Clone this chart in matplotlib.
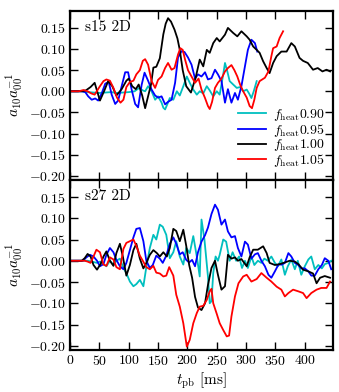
import matplotlib
matplotlib.use("Agg")
import matplotlib.pyplot as plt

plt.rcParams['font.family'] = 'serif'
plt.rcParams['font.serif'] = ['cmr10', 'DejaVu Serif']
plt.rcParams['mathtext.fontset'] = 'cm'
plt.rcParams['axes.formatter.use_mathtext'] = True
plt.rcParams['font.size'] = 10

# ---------------- data: s15 2D ----------------
s15_t_090 = [0, 20, 30, 40, 50, 60, 70, 80, 90, 100,
             110, 118, 124, 128, 133, 139, 145, 150, 156, 159,
             162, 166, 170, 176, 182, 187, 193, 199, 204, 210,
             216, 221, 227, 233, 238, 244, 250, 255, 261, 264,
             268, 272, 278, 284, 290, 295, 301, 305, 309, 313,
             318]
s15_y_090 = [0, 0, -0.002, -0.003, -0.004, -0.003, -0.002, -0.004, -0.003, -0.002,
             0.0, 0.008, 0.002, 0.0, 0.012, 0.0, -0.02, -0.012, -0.027, -0.039,
             -0.043, -0.03, -0.016, -0.02, 0.0, -0.01, 0.012, 0.035, 0.02, 0.004,
             -0.008, 0.0, -0.005, 0.012, 0.002, -0.012, 0.0, -0.008, 0.04, 0.067,
             0.047, 0.024, 0.016, 0.008, 0.01, 0.0, 0.004, -0.005, -0.016, 0.0,
             0.024]

s15_t_095 = [0, 20, 26, 31, 37, 43, 48, 54, 60, 66,
             71, 77, 82, 88, 94, 99, 105, 111, 116, 122,
             127, 133, 139, 145, 150, 156, 162, 167, 173, 179,
             184, 190, 195, 201, 207, 213, 218, 224, 230, 235,
             241, 247, 252, 258, 264, 269, 275, 281, 286, 292,
             298, 303, 309, 315, 319]
s15_y_095 = [0, 0, -0.002, -0.012, -0.02, -0.017, -0.022, -0.005, 0.018, 0.022,
             -0.008, -0.03, -0.022, 0.012, 0.045, 0.045, 0.004, -0.03, -0.038, 0.015,
             0.044, 0.025, 0.004, -0.01, -0.015, -0.012, -0.031, -0.025, -0.02, 0.02,
             0.08, 0.095, 0.093, 0.08, 0.063, 0.03, 0.04, 0.035, 0.045, 0.028,
             0.031, 0.051, 0.04, 0.024, -0.027, 0.005, -0.027, -0.004, -0.02, 0.012,
             0.059, 0.098, 0.122, 0.114, 0.094]

s15_t_100 = [0, 20, 27, 35, 42, 51, 58, 65, 72, 79,
             88, 96, 100, 106, 112, 117, 123, 128, 133, 138,
             142, 147, 153, 159, 163, 167, 172, 178, 183, 187,
             192, 198, 206, 214, 221, 227, 233, 238, 244, 250,
             255, 264, 269, 278, 285, 292, 301, 306, 312, 318,
             323, 329, 335, 340, 346, 352, 360, 369, 377, 383,
             391, 397, 405, 414, 422, 430, 437, 443]
s15_y_100 = [0.0, 0.0, 0.002, 0.01, 0.02, -0.022, 0.0, 0.024, 0.012, -0.01,
             0.005, 0.025, 0.03, 0.012, 0.005, 0.016, -0.01, -0.04, -0.012, 0.016,
             0.056, 0.058, 0.078, 0.135, 0.16, 0.173, 0.165, 0.146, 0.125, 0.098,
             0.05, 0.012, -0.003, 0.032, 0.075, 0.059, 0.098, 0.091, 0.114, 0.126,
             0.118, 0.134, 0.15, 0.138, 0.13, 0.142, 0.13, 0.122, 0.106, 0.098,
             0.091, 0.071, 0.055, 0.043, 0.067, 0.083, 0.094, 0.094, 0.114, 0.106,
             0.079, 0.072, 0.067, 0.051, 0.055, 0.047, 0.051, 0.047]

s15_t_105 = [0, 15, 23, 30, 36, 42, 51, 57, 62, 68,
             74, 80, 86, 91, 96, 102, 108, 113, 119, 124,
             128, 133, 139, 145, 150, 156, 162, 167, 173, 178,
             184, 188, 192, 196, 201, 207, 213, 219, 224, 230,
             235, 238, 242, 247, 252, 258, 264, 269, 275, 280,
             285, 290, 295, 301, 306, 310, 314, 318, 323, 332,
             338, 343, 346, 352, 357, 363]
s15_y_105 = [0, 0, 0.003, 0.0, -0.005, -0.008, 0.012, 0.024, 0.028, 0.025,
             0.008, -0.015, -0.027, -0.02, 0.01, 0.022, 0.025, 0.04, 0.05, 0.072,
             0.076, 0.063, 0.024, 0.008, 0.027, 0.035, 0.055, 0.067, 0.051, 0.055,
             0.087, 0.102, 0.098, 0.075, 0.05, 0.035, 0.02, 0.03, 0.004, -0.016,
             -0.035, -0.042, -0.025, 0.008, 0.02, 0.03, 0.047, 0.055, 0.062, 0.05,
             0.035, 0.015, 0.0, -0.015, -0.035, -0.04, -0.02, 0.008, 0.024, 0.032,
             0.047, 0.083, 0.102, 0.106, 0.126, 0.142]

# ---------------- data: s27 2D ----------------
s27_t_090 = [0, 30, 40, 46, 51, 57, 62, 68, 74, 79,
             85, 91, 96, 102, 108, 113, 119, 125, 130, 136,
             142, 147, 153, 158, 164, 170, 176, 181, 187, 193,
             198, 204, 210, 216, 221, 224, 229, 235, 238, 241,
             244, 248, 252, 255, 261, 266, 272, 277, 283, 288,
             293, 298, 303, 309, 314, 320, 326, 331, 337, 343,
             349, 354, 360, 366, 371, 377, 383, 388, 394, 400,
             406, 411, 417, 423, 429, 434, 440, 445]
s27_y_090 = [0, 0, -0.003, -0.005, -0.002, -0.008, -0.013, 0.0, -0.01, 0.0,
             0.005, -0.017, -0.029, -0.049, -0.06, -0.055, -0.045, -0.06, -0.015, 0.03,
             0.061, 0.05, 0.085, 0.08, 0.061, 0.006, 0.02, 0.046, 0.01, -0.009,
             0.03, 0.018, 0.058, 0.01, -0.037, 0.097, 0.05, -0.037, -0.1, -0.095,
             -0.029, 0.01, 0.0, 0.014, 0.05, 0.045, 0.0, 0.02, 0.0, 0.01,
             -0.017, 0.0, -0.017, 0.01, -0.01, 0.0, -0.005, 0.005, 0.0, 0.01,
             -0.005, -0.013, 0.003, -0.033, -0.013, 0.003, -0.02, 0.0, -0.033, -0.013,
             0.003, 0.01, -0.02, -0.01, -0.018, -0.008, -0.005, 0.0]

s27_t_095 = [0, 22, 28, 34, 40, 46, 51, 57, 62, 68,
             74, 79, 85, 91, 96, 102, 108, 113, 119, 125,
             130, 136, 141, 147, 153, 158, 164, 170, 176, 181,
             187, 192, 198, 203, 208, 213, 218, 224, 230, 235,
             241, 247, 252, 258, 264, 269, 275, 281, 286, 292,
             298, 303, 309, 315, 320, 326, 332, 338, 343, 349,
             355, 361, 366, 372, 377, 383, 389, 394, 400, 406,
             411, 417, 423, 429, 434, 440, 445]
s27_y_095 = [0, 0, 0.008, 0.014, 0.01, 0.0, -0.013, -0.008, 0.014, 0.03,
             0.02, 0.002, -0.013, -0.02, -0.005, 0.025, 0.055, 0.075, 0.077, 0.046,
             0.0, -0.017, -0.01, 0.012, 0.005, -0.005, 0.012, 0.04, 0.055, 0.04,
             0.015, 0.02, 0.002, -0.004, 0.002, -0.013, 0.02, 0.045, 0.06, 0.078,
             0.11, 0.132, 0.12, 0.085, 0.097, 0.069, 0.055, 0.058, 0.03, 0.01,
             0.045, 0.038, 0.005, 0.015, 0.018, 0.0, -0.013, -0.033, -0.04, -0.025,
             -0.009, -0.009, -0.005, 0.018, 0.01, -0.005, -0.01, -0.018, -0.018, -0.025,
             -0.035, -0.035, -0.02, -0.01, 0.006, 0.0, -0.02]

s27_t_100 = [0, 20, 25, 30, 35, 40, 46, 52, 57, 62,
             68, 74, 79, 85, 90, 96, 102, 108, 113, 119,
             125, 130, 136, 142, 148, 153, 159, 165, 170, 176,
             181, 187, 193, 198, 203, 208, 213, 218, 224, 230,
             235, 241, 247, 252, 258, 264, 269, 275, 281, 286,
             292, 301, 306, 312, 320, 329, 335, 340, 349, 357,
             366, 374, 383, 389, 397, 406, 414, 420, 426, 434,
             443]
s27_y_100 = [0, 0, 0.006, 0.016, 0.01, -0.01, -0.021, -0.008, 0.01, 0.022,
             0.0, -0.012, 0.018, 0.04, 0.01, -0.035, -0.01, 0.025, 0.04, 0.005,
             -0.018, -0.005, 0.014, 0.025, 0.018, 0.01, 0.02, 0.01, 0.03, 0.075,
             0.07, 0.046, 0.073, 0.035, -0.01, -0.04, -0.085, -0.11, -0.116, -0.1,
             -0.057, -0.017, 0.0, -0.033, -0.068, -0.06, 0.014, 0.005, 0.008, 0.0,
             0.004, -0.013, 0.008, 0.026, 0.026, 0.034, 0.018, -0.005, -0.01, -0.008,
             -0.004, 0.0, -0.002, -0.008, -0.021, -0.025, -0.03, -0.053, -0.04, -0.036,
             -0.04]

s27_t_105 = [0, 25, 30, 35, 40, 45, 51, 57, 62, 68,
             74, 79, 85, 91, 96, 102, 108, 113, 119, 124,
             130, 136, 142, 147, 153, 159, 164, 169, 176, 181,
             187, 193, 199, 204, 210, 216, 221, 227, 233, 238,
             241, 244, 250, 255, 261, 267, 271, 275, 281, 287,
             295, 301, 309, 318, 326, 335, 343, 352, 360, 366,
             372, 380, 389, 397, 403, 411, 420, 428, 437, 443]
s27_y_105 = [0, 0, -0.002, -0.005, 0.01, 0.026, 0.02, -0.009, -0.012, 0.008,
             0.003, -0.015, -0.02, 0.028, 0.042, 0.046, 0.05, 0.035, 0.012, 0.0,
             -0.015, -0.02, -0.012, -0.028, -0.03, -0.037, -0.035, -0.015, -0.035, -0.08,
             -0.108, -0.147, -0.202, -0.186, -0.147, -0.123, -0.108, -0.106, -0.092, -0.072,
             -0.066, -0.1, -0.125, -0.147, -0.163, -0.178, -0.176, -0.131, -0.084, -0.053,
             -0.037, -0.033, -0.049, -0.043, -0.029, -0.04, -0.049, -0.061, -0.068, -0.084,
             -0.076, -0.068, -0.072, -0.076, -0.088, -0.076, -0.068, -0.064, -0.064, -0.049]

labels = [r'$f_{\rm heat}0.90$', r'$f_{\rm heat}0.95$', r'$f_{\rm heat}1.00$', r'$f_{\rm heat}1.05$']
colors = ['c', 'b', 'k', 'r']
panel_titles = ['s15 2D', 's27 2D']
xticks = [0, 50, 100, 150, 200, 250, 300, 350, 400]
yticks = [-0.20, -0.15, -0.10, -0.05, 0.00, 0.05, 0.10, 0.15]

panels = [
    [(s15_t_090, s15_y_090), (s15_t_095, s15_y_095), (s15_t_100, s15_y_100), (s15_t_105, s15_y_105)],
    [(s27_t_090, s27_y_090), (s27_t_095, s27_y_095), (s27_t_100, s27_y_100), (s27_t_105, s27_y_105)],
]

fig = plt.figure(figsize=(3.39, 3.92), dpi=100)
W, H = 339, 392
left, right = 70 / W, 333 / W
ax1 = fig.add_axes([left, 1 - 180 / H, right - left, 169 / H])
ax2 = fig.add_axes([left, 1 - 350 / H, right - left, 170 / H], sharex=ax1)

for ax, series, title in zip([ax1, ax2], panels, panel_titles):
    for (t, y), c, lab in zip(series, colors, labels):
        ax.plot(t, y, color=c, lw=1.3, label=lab)
    ax.set_xlim(0, 448)
    ax.set_ylim(-0.21, 0.19)
    ax.set_yticks(yticks)
    ax.set_xticks(xticks)
    ax.yaxis.set_major_formatter(matplotlib.ticker.FormatStrFormatter('$%.2f$'))
    ax.tick_params(direction='in', top=True, right=True, length=6, width=1.0, labelsize=10, pad=3)
    for s in ax.spines.values():
        s.set_linewidth(1.6)
    ax.text(0.057, 0.905, title, transform=ax.transAxes, fontsize=11, va='center', ha='left')
    ax.set_ylabel(r'$a_{10}a_{00}^{-1}$', fontsize=11, labelpad=2)

plt.setp(ax1.get_xticklabels(), visible=False)
ax2.xaxis.set_major_formatter(matplotlib.ticker.FormatStrFormatter('$%d$'))
ax2.set_xlabel(r'$t_{\rm pb}$ [ms]', fontsize=11, labelpad=2)

ax1.legend(loc='lower right', bbox_to_anchor=(0.97, 0.065), frameon=False,
           fontsize=10, handlelength=2.0, handletextpad=0.5, labelspacing=-0.1,
           borderpad=0.0, borderaxespad=0.0)

fig.savefig('out.png', dpi=100)
